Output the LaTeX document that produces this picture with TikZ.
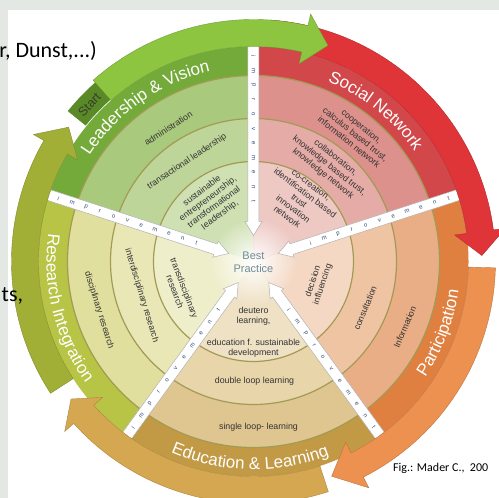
\documentclass[tikz,border=0pt]{standalone}
\usepackage{fontspec}
\setmainfont{Liberation Sans}
\newfontfamily\carl{Carlito}
\usetikzlibrary{decorations.text,fadings}

\definecolor{bg}{HTML}{E3E8E4}
\definecolor{gRa}{HTML}{CFE0B2}\definecolor{gRb}{HTML}{BDD598}\definecolor{gRc}{HTML}{A9C97C}
\definecolor{gBand}{HTML}{74AA3A}\definecolor{gArrow}{HTML}{8DC540}\definecolor{gTab}{HTML}{5A8A28}
\definecolor{rRa}{HTML}{EEC9C3}\definecolor{rRb}{HTML}{E5ACA7}\definecolor{rRc}{HTML}{DC918C}
\definecolor{rBand}{HTML}{D2474A}\definecolor{rArrow}{HTML}{DF3539}
\definecolor{oRa}{HTML}{F4D8C3}\definecolor{oRb}{HTML}{EFC4A3}\definecolor{oRc}{HTML}{E9AE85}
\definecolor{oBand}{HTML}{DF8040}\definecolor{oArrow}{HTML}{EC9150}
\definecolor{eRa}{HTML}{EFE1C4}\definecolor{eRb}{HTML}{E8D5AA}\definecolor{eRc}{HTML}{DFC58F}
\definecolor{eBand}{HTML}{C29944}\definecolor{eArrow}{HTML}{D5A750}
\definecolor{yRa}{HTML}{EFEECB}\definecolor{yRb}{HTML}{E9E7B5}\definecolor{yRc}{HTML}{E1DF9D}
\definecolor{yBand}{HTML}{B8C445}\definecolor{yArrow}{HTML}{A2AF37}
\definecolor{ringline}{HTML}{A29A55}
\definecolor{txt}{HTML}{333333}
\definecolor{bp}{HTML}{6E8C99}
\definecolor{impc}{HTML}{2F4A7A}
\definecolor{startc}{HTML}{333D28}

\tikzfading[name=glow, inner color=transparent!0, outer color=transparent!100]

\newcommand{\pieslice}[4]{\fill[#1] (0,0) -- (#2:#4pt) arc[start angle=#2,end angle=#3,radius=#4pt] -- cycle;}
\newcommand{\annul}[5]{\fill[#1] (#2:#4pt) arc[start angle=#2,end angle=#3,radius=#4pt] -- (#3:#5pt) arc[start angle=#3,end angle=#2,radius=#5pt] -- cycle;}
\newcommand{\carrow}[4]{\fill[#1, draw=#1!80!black, line width=0.4pt] (#2:215pt) -- (#2:242pt) arc[start angle=#2,end angle=#3,radius=242pt] -- (#3:254pt) -- (#4:228.5pt) -- (#3:203pt) -- (#3:215pt) arc[start angle=#3,end angle=#2,radius=215pt] -- cycle;}
\newcommand{\sectorfill}[6]{\pieslice{#6}{#1}{#2}{215}\pieslice{#5}{#1}{#2}{186}\pieslice{#4}{#1}{#2}{143}\pieslice{#3}{#1}{#2}{100}}
\def\bandfont{\color{white}\fontsize{17}{17}\selectfont}

\begin{document}
\begin{tikzpicture}[x=1pt,y=1pt,
  itxt/.style={font=\fontsize{8.8}{10}\selectfont, text=txt, align=center, inner sep=0pt},
  imp/.style={font=\fontsize{6}{6}\selectfont, text=impc, inner sep=0pt},
  ruler/.style={fill=white, draw=black!30, line width=0.5pt},
  slide/.style={font=\carl\fontsize{22}{22}\selectfont, text=black, inner sep=0pt}]
\useasboundingbox (-253.5,-236.5) rectangle (245.5,261.5);
\fill[bg] (-253.5,-236.5) rectangle (245.5,261.5);
\fill[white] (-245.5,-236.5) rectangle (245.5,251.5);

% sectors
\sectorfill{90}{162}{gRa}{gRb}{gRc}{gBand}
\sectorfill{18}{90}{rRa}{rRb}{rRc}{rBand}
\sectorfill{-54}{18}{oRa}{oRb}{oRc}{oBand}
\sectorfill{-126}{-54}{eRa}{eRb}{eRc}{eBand}
\sectorfill{162}{234}{yRa}{yRb}{yRc}{yBand}

\fill[white, path fading=glow] (0,0) circle (44pt);

\foreach \rr in {100,143,186} {\draw[ringline, line width=1.2pt] (0,0) circle (\rr pt);}

% rulers
\foreach \th in {90,162,234,306,18} {
  \draw[ruler, rotate=\th] (216,-5.5) -- (40,-5.5) -- (40,-8.5) -- (26,0) -- (40,8.5) -- (40,5.5) -- (216,5.5) -- cycle;
}
\foreach \th/\rot/\rs/\dr in {90/-90/205/-14.5, 162/-18/205/-14.5, 234/54/205/-14.5, 306/-54/60/14.5, 18/18/60/14.5} {
  \foreach \L [count=\k from 0] in {i,m,p,r,o,v,e,m,e,n,t} {
    \node[imp, rotate=\rot] (imp-\th-\k) at (\th:{\rs+\dr*\k}) {\L};
  }
}

% arrows
\carrow{rArrow}{86}{7.5}{1.5}
\carrow{gArrow}{131.5}{77}{71}
\carrow{oArrow}{-1.5}{-63}{-70}
\carrow{eArrow}{-72}{-138}{-143}
\carrow{yArrow}{-147}{-210}{-216}
\annul{gTab}{141}{131.5}{216}{239}
\node[font=\fontsize{12.5}{12.5}\selectfont, text=startc, rotate=46.3, inner sep=0pt] (start) at (136.3:227) {Start};

% band labels
\path[decorate, decoration={text along path, text align=center, text={|\bandfont|Leadership {\&} Vision}}] (170:195pt) arc[start angle=170,end angle=80,radius=195pt];
\path[decorate, decoration={text along path, text align=center, text={|\bandfont|Social Network}}] (96:195pt) arc[start angle=96,end angle=6,radius=195pt];
\path[decorate, decoration={text along path, text align=center, text={|\bandfont|Participation}}] (-66:207pt) arc[start angle=-66,end angle=24,radius=207pt];
\path[decorate, decoration={text along path, text align=center, text={|\bandfont|Education {\&} Learning}}] (-136:208pt) arc[start angle=-136,end angle=-46,radius=208pt];
\path[decorate, decoration={text along path, text align=center, text={|\bandfont|Research Integration}}] (149:207pt) arc[start angle=149,end angle=239,radius=207pt];

% inner texts
\node[itxt, rotate=32.6] (adm) at (122.6:158) {administration};
\node[itxt, rotate=33.6] (tra) at (123.6:120) {transactional leadership};
\node[itxt, rotate=37] (sus) at (126:72) {sustainable\\entrepreneurship,\\transformational\\leadership,};
\node[itxt, rotate=-38.7] (coop) at (51.3:163) {cooperation,\\calculus based trust,\\information network};
\node[itxt, rotate=-38.4] (coll) at (51.6:122) {collaboration,\\knowledge based trust,\\knowledge network};
\node[itxt, rotate=-37] (cocr) at (53:76) {co-creation,\\identification based\\trust\\innovation\\network};
\node[itxt, rotate=71.6] (dec) at (-18.4:68) {decision\\influencing};
\node[itxt, rotate=67.4] (cons) at (-22.6:121) {consultation};
\node[itxt, rotate=66.6] (info) at (-23.4:165) {Information};
\node[itxt] (deu) at (0,-54.5) {deutero\\learning,};
\node[itxt] (edu) at (0,-86.5) {education f. sustainable\\development};
\node[itxt] (dbl) at (1,-119.5) {double loop learning};
\node[itxt] (sgl) at (5,-165.5) {single loop- learning};
\node[itxt, rotate=-69] (trd) at (201:79) {transdisciplinary\\research};
\node[itxt, rotate=-73] (intd) at (197:117) {interdisciplinary research};
\node[itxt, rotate=-72.5] (disc) at (197.5:162) {disciplinary research};

\node[font=\fontsize{11}{13}\selectfont, text=bp, align=center, inner sep=0pt] (best) at (0,-1) {Best\\Practice};

% slide texts
\node[slide, anchor=base east] (dunst) at (-156.5,203.5) {r, Dunst,...)};
\node[slide, anchor=base west] (ts) at (-252,-40.5) {ts,};
\node[slide, font=\carl\fontsize{12}{12}\selectfont, anchor=base west] (fig) at (139.5,-210.5) {Fig.: Mader C.,~~200};
\end{tikzpicture}
\end{document}
